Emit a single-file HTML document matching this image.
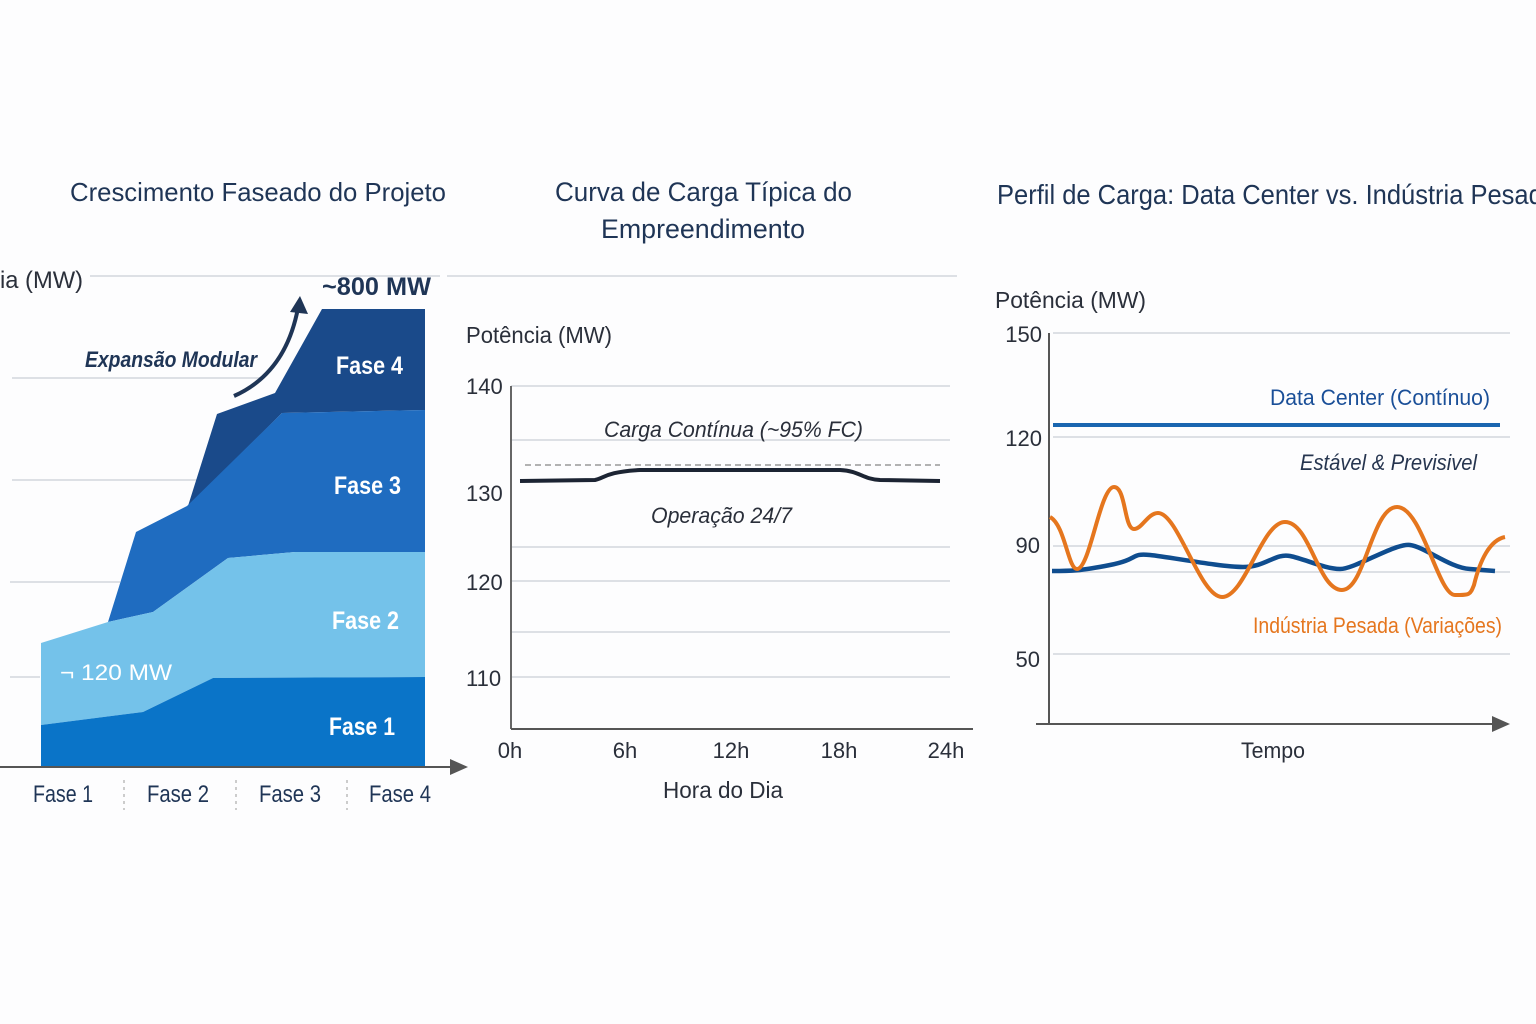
<!DOCTYPE html>
<html><head><meta charset="utf-8"><style>
html,body{margin:0;padding:0;background:#fdfdfe;}
svg{display:block;font-family:"Liberation Sans",sans-serif;}
</style></head><body>
<svg width="1536" height="1024" viewBox="0 0 1536 1024" xmlns="http://www.w3.org/2000/svg">
<rect width="1536" height="1024" fill="#fdfdfe"/>
<defs><marker id="ar" markerWidth="10" markerHeight="10" refX="8" refY="5" orient="auto"><path d="M0,1 L9,5 L0,9 Z" fill="#555"/></marker></defs>
<!-- LEFT -->
<text x="70" y="201" font-size="26" fill="#1f3556" textLength="376" lengthAdjust="spacingAndGlyphs">Crescimento Faseado do Projeto</text>
<g stroke="#dde0e5" stroke-width="2">
<line x1="90" y1="276" x2="440" y2="276"/><line x1="447" y1="276" x2="957" y2="276"/>
<line x1="12" y1="378" x2="260" y2="378"/><line x1="12" y1="480" x2="200" y2="480"/>
<line x1="10" y1="582" x2="120" y2="582"/><line x1="10" y1="677" x2="40" y2="677"/>
</g>
<text x="0" y="288" font-size="24" fill="#2a2f3a" textLength="83" lengthAdjust="spacingAndGlyphs">ia (MW)</text>
<polygon points="188,506 217,414 275,393 322,309 425,309 425,410 282,413" fill="#1a4a8a"/>
<polygon points="108,622 136,532 187,506 282,413 425,410 425,552 295,552 228,558 153,612" fill="#1f6cc0"/>
<polygon points="41,643 108,622 153,612 228,558 295,552 425,552 425,677 213,678 143,712 41,725" fill="#74c2ea"/>
<polygon points="41,725 143,712 213,678 425,677 425,767 41,767" fill="#0a74c8"/>
<path d="M234,396 C270,380 290,350 298,308" stroke="#1f3556" stroke-width="4" fill="none"/>
<path d="M290,312 L300,296 L308,314 Z" fill="#1f3556"/>
<text x="322" y="295" font-size="25" font-weight="bold" fill="#1f3556" textLength="109" lengthAdjust="spacingAndGlyphs">~800 MW</text>
<text x="85" y="367" font-size="22" font-style="italic" font-weight="bold" fill="#1f3556" textLength="172" lengthAdjust="spacingAndGlyphs">Expansão Modular</text>
<g font-size="25" font-weight="bold" fill="#fff">
<text x="336" y="374" textLength="67" lengthAdjust="spacingAndGlyphs">Fase 4</text><text x="334" y="494" textLength="67" lengthAdjust="spacingAndGlyphs">Fase 3</text>
<text x="332" y="629" textLength="67" lengthAdjust="spacingAndGlyphs">Fase 2</text><text x="329" y="735" textLength="66" lengthAdjust="spacingAndGlyphs">Fase 1</text></g>
<text x="60" y="680" font-size="22" fill="#fff" textLength="112" lengthAdjust="spacingAndGlyphs">¬ 120 MW</text>
<line x1="0" y1="767" x2="466" y2="767" stroke="#555" stroke-width="2" marker-end="url(#ar)"/>
<g stroke="#bbb" stroke-dasharray="3,4" stroke-width="1.5"><line x1="124" y1="780" x2="124" y2="810"/><line x1="236" y1="780" x2="236" y2="810"/><line x1="347" y1="780" x2="347" y2="810"/></g>
<g font-size="24" fill="#1f3556"><text x="33" y="802" textLength="60" lengthAdjust="spacingAndGlyphs">Fase 1</text><text x="147" y="802" textLength="62" lengthAdjust="spacingAndGlyphs">Fase 2</text><text x="259" y="802" textLength="62" lengthAdjust="spacingAndGlyphs">Fase 3</text><text x="369" y="802" textLength="62" lengthAdjust="spacingAndGlyphs">Fase 4</text></g>
<!-- MIDDLE -->
<text x="555" y="201" font-size="27" fill="#1f3556" textLength="297" lengthAdjust="spacingAndGlyphs">Curva de Carga Típica do</text>
<text x="601" y="238" font-size="27" fill="#1f3556" textLength="204" lengthAdjust="spacingAndGlyphs">Empreendimento</text>
<text x="466" y="343" font-size="23" fill="#2a2f3a" textLength="146" lengthAdjust="spacingAndGlyphs">Potência (MW)</text>
<g stroke="#dde0e5" stroke-width="2"><line x1="511" y1="386" x2="950" y2="386"/><line x1="511" y1="440" x2="950" y2="440"/><line x1="511" y1="547" x2="950" y2="547"/><line x1="511" y1="581" x2="950" y2="581"/><line x1="511" y1="632" x2="950" y2="632"/><line x1="511" y1="677" x2="950" y2="677"/></g>
<g font-size="22" fill="#2a2f3a"><text x="466" y="394">140</text><text x="466" y="501">130</text><text x="466" y="590">120</text><text x="466" y="686">110</text></g>
<line x1="511" y1="386" x2="511" y2="729" stroke="#666" stroke-width="2"/>
<line x1="511" y1="729" x2="973" y2="729" stroke="#555" stroke-width="2"/>
<line x1="525" y1="465" x2="940" y2="465" stroke="#999" stroke-width="1.5" stroke-dasharray="6,4"/>
<path d="M520,481 L595,480 C605,478 605,472 640,470 L840,470 C860,471 862,479 880,480 L940,481" stroke="#1c2433" stroke-width="4" fill="none"/>
<text x="604" y="437" font-size="22" font-style="italic" fill="#2a2f3a" textLength="259" lengthAdjust="spacingAndGlyphs">Carga Contínua (~95% FC)</text>
<text x="651" y="523" font-size="22" font-style="italic" fill="#2a2f3a" textLength="141" lengthAdjust="spacingAndGlyphs">Operação 24/7</text>
<g font-size="22" fill="#2a2f3a" text-anchor="middle"><text x="510" y="758">0h</text><text x="625" y="758">6h</text><text x="731" y="758">12h</text><text x="839" y="758">18h</text><text x="946" y="758">24h</text></g>
<text x="663" y="798" font-size="23" fill="#2a2f3a" textLength="120" lengthAdjust="spacingAndGlyphs">Hora do Dia</text>
<!-- RIGHT -->
<text x="997" y="204" font-size="28" fill="#1f3556" textLength="560" lengthAdjust="spacingAndGlyphs">Perfil de Carga: Data Center vs. Indústria Pesada</text>
<text x="995" y="308" font-size="23" fill="#2a2f3a" textLength="151" lengthAdjust="spacingAndGlyphs">Potência (MW)</text>
<g stroke="#dde0e5" stroke-width="2"><line x1="1053" y1="333" x2="1510" y2="333"/><line x1="1053" y1="437" x2="1510" y2="437"/><line x1="1053" y1="546" x2="1510" y2="546"/><line x1="1053" y1="572" x2="1510" y2="572"/><line x1="1053" y1="654" x2="1510" y2="654"/></g>
<g font-size="22" fill="#2a2f3a" text-anchor="end"><text x="1042" y="342">150</text><text x="1042" y="446">120</text><text x="1040" y="553">90</text><text x="1040" y="667">50</text></g>
<line x1="1049" y1="333" x2="1049" y2="724" stroke="#555" stroke-width="2"/>
<line x1="1036" y1="724" x2="1508" y2="724" stroke="#555" stroke-width="2" marker-end="url(#ar)"/>
<line x1="1053" y1="425" x2="1500" y2="425" stroke="#1a66b0" stroke-width="4"/>
<path d="M1052,571 C1070,571 1080,571 1110,565 S1130,553 1150,555 S1220,567 1243,567 S1275,553 1290,556 S1325,569 1340,569 S1395,543 1410,545 S1450,568 1470,569 L1495,571" stroke="#0f4d8f" stroke-width="4.5" fill="none"/>
<path d="M1050,517 C1065,525 1068,569 1077,569 C1090,569 1100,487 1114,487 C1126,487 1124,529 1134,529 C1142,529 1148,513 1158,513 C1178,513 1200,597 1222,597 C1245,597 1262,522 1285,522 C1310,522 1318,590 1342,590 C1365,590 1372,507 1397,507 C1422,507 1438,595 1455,595 C1470,595 1470,595 1474,585 C1480,560 1490,540 1505,537" stroke="#e5761e" stroke-width="4" fill="none"/>
<text x="1270" y="405" font-size="22" fill="#1a4f98" textLength="220" lengthAdjust="spacingAndGlyphs">Data Center (Contínuo)</text>
<text x="1300" y="470" font-size="22" font-style="italic" fill="#26354f" textLength="177" lengthAdjust="spacingAndGlyphs">Estável &amp; Previsivel</text>
<text x="1253" y="633" font-size="22" fill="#e5761e" textLength="249" lengthAdjust="spacingAndGlyphs">Indústria Pesada (Variações)</text>
<text x="1241" y="758" font-size="22" fill="#2a2f3a" textLength="64" lengthAdjust="spacingAndGlyphs">Tempo</text>
</svg>
</body></html>
